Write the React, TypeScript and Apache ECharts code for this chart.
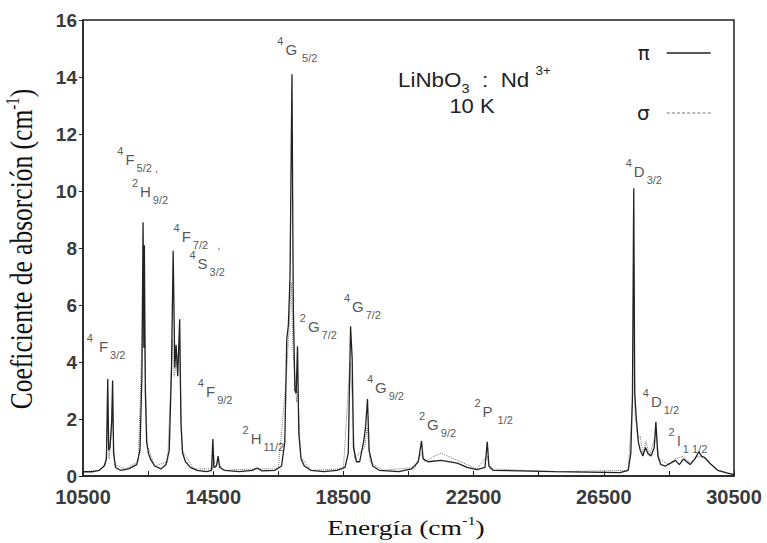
import React, { useEffect, useRef } from "react";
import * as echarts from "echarts";

// π-polarised absorption spectrum [energy cm-1, absorption coefficient cm-1]
const piSpectrum: [number, number][] = [
  [10500, 0.15], [10800, 0.15], [11000, 0.2], [11150, 0.35], [11220, 0.6], [11260, 3.4],
  [11290, 0.9], [11330, 1.0], [11380, 1.9], [11410, 3.35], [11440, 0.8], [11500, 0.3],
  [11650, 0.2], [11900, 0.25], [12150, 0.4], [12250, 0.9], [12310, 3.5], [12345, 8.9],
  [12370, 4.5], [12385, 8.1], [12415, 3.0], [12455, 1.2], [12510, 0.8], [12570, 0.6],
  [12700, 0.35], [12900, 0.25], [13050, 0.4], [13150, 0.9], [13220, 3.8], [13270, 7.9],
  [13320, 3.8], [13360, 4.6], [13410, 3.5], [13470, 5.5], [13510, 1.8], [13560, 0.8],
  [13650, 0.5], [13800, 0.3], [14000, 0.2], [14300, 0.15], [14450, 0.2], [14490, 1.3],
  [14520, 0.3], [14600, 0.35], [14650, 0.7], [14700, 0.3], [14850, 0.2], [15300, 0.15],
  [15700, 0.2], [15850, 0.28], [16000, 0.18], [16400, 0.2], [16600, 0.35], [16700, 1.2],
  [16760, 4.8], [16810, 5.3], [16860, 7.0], [16920, 14.1], [16960, 6.0], [17010, 3.0],
  [17050, 2.9], [17090, 4.55], [17130, 1.5], [17200, 0.6], [17300, 0.35], [17500, 0.2],
  [17900, 0.15], [18300, 0.2], [18550, 0.3], [18650, 0.8], [18720, 5.25], [18770, 4.1],
  [18810, 1.0], [18900, 0.5], [19000, 0.5], [19120, 1.2], [19180, 1.7], [19240, 2.7],
  [19290, 0.9], [19400, 0.35], [19600, 0.2], [20200, 0.15], [20600, 0.25], [20800, 0.5],
  [20900, 1.23], [20950, 0.6], [21100, 0.5], [21500, 0.55], [22000, 0.45], [22300, 0.3],
  [22600, 0.22], [22850, 0.3], [22920, 1.2], [22970, 0.35], [23100, 0.2], [25000, 0.15],
  [27000, 0.12], [27250, 0.2], [27330, 0.8], [27380, 2.8], [27420, 10.1], [27450, 2.9],
  [27500, 2.0], [27560, 1.2], [27620, 0.9], [27700, 0.7], [27780, 1.0], [27850, 0.8],
  [27950, 0.7], [28050, 1.0], [28100, 1.9], [28160, 0.7], [28250, 0.4], [28400, 0.35],
  [28550, 0.45], [28700, 0.55], [28820, 0.4], [28950, 0.6], [29150, 0.4], [29300, 0.6],
  [29420, 0.85], [29500, 0.7], [29600, 0.65], [29800, 0.4], [30000, 0.2], [30300, 0.1],
  [30500, 0.05],
];

// σ-polarised absorption spectrum [energy cm-1, absorption coefficient cm-1]
const sigmaSpectrum: [number, number][] = [
  [10500, 0.15], [11000, 0.2], [11200, 0.4], [11260, 1.8], [11300, 0.6], [11410, 2.0],
  [11470, 0.4], [11800, 0.25], [12200, 0.5], [12330, 5.5], [12365, 7.8], [12405, 4.0],
  [12470, 1.1], [12700, 0.35], [13100, 0.5], [13250, 4.8], [13300, 3.5], [13460, 4.5],
  [13550, 0.9], [13900, 0.25], [14480, 0.25], [14500, 0.9], [14560, 0.3], [14660, 0.5],
  [14800, 0.2], [15850, 0.25], [16500, 0.25], [16750, 3.5], [16820, 5.0], [16900, 6.8],
  [16950, 4.5], [17060, 2.6], [17100, 3.0], [17180, 0.7], [17500, 0.2], [18500, 0.25],
  [18700, 4.0], [18760, 3.0], [18850, 0.6], [19150, 1.0], [19230, 1.7], [19320, 0.5],
  [19700, 0.2], [20700, 0.3], [20900, 0.8], [21000, 0.5], [21300, 0.7], [21500, 0.8],
  [21800, 0.65], [22200, 0.45], [22600, 0.25], [22920, 0.7], [23000, 0.25], [25000, 0.15],
  [27250, 0.2], [27380, 2.5], [27420, 6.0], [27460, 2.2], [27550, 1.3], [27620, 1.4],
  [27700, 0.8], [27800, 1.2], [27900, 0.7], [28100, 1.5], [28200, 0.6], [28500, 0.4],
  [28700, 0.6], [28950, 0.7], [29150, 0.45], [29400, 0.7], [29600, 0.6], [30000, 0.2],
  [30500, 0.05],
];

// x tick labels and minor ticks
const xTickLabels = [10500, 14500, 18500, 22500, 26500, 30500];
const xTicks = [10500, 12500, 14500, 16500, 18500, 20500, 22500, 24500, 26500, 28500, 30500];

// level annotations: [energy, absorption, superscript, term, subscript]
const levelLabels: [number, number, string, string, string][] = [
  [11208, 4.56, "4", " F", "3/2"],
  [12180, 11.1, "4", "F", "5/2 ,"],
  [12560, 10.0, "2", "H", "9/2"],
  [14000, 8.39, "4", "F", "7/2   ,"],
  [14315, 7.45, "4", "S", "3/2"],
  [14560, 2.95, "4", "F", "9/2"],
  [16040, 1.33, "2", "H", "11/2"],
  [17085, 14.95, "4", "G", " 5/2"],
  [17731, 5.26, "2", "G", "7/2"],
  [19085, 5.96, "4", "G", "7/2"],
  [19792, 3.12, "4", "G", "9/2"],
  [21392, 1.82, "2", "G", "9/2"],
  [23115, 2.28, "2", "P", " 1/2"],
  [27731, 10.67, "4", "D", "3/2"],
  [28254, 2.6, "4", "D", "1/2"],
  [29085, 1.26, "2", "I", "1 1/2"],
];

const sans = "'Liberation Sans', Arial, sans-serif";
const serif = "'Liberation Serif', 'Times New Roman', serif";
const ink = "#2a2a2a";

export default function App() {
  const ref = useRef<HTMLDivElement>(null);
  useEffect(() => {
    document.body.style.margin = "0";
    if (!ref.current) return;
    const chart = echarts.init(ref.current, undefined, { renderer: "svg" });
    const option: any = {
      animation: false,
      backgroundColor: "#ffffff",
      grid: {
        left: 83, right: 33, top: 20, bottom: 67,
        containLabel: false,
        outerBoundsMode: "none",
        show: true, borderColor: "#222", borderWidth: 1.5,
      },
      legend: {
        orient: "vertical",
        left: 632,
        top: 38,
        align: "right",
        itemWidth: 44,
        itemHeight: 14,
        itemGap: 40,
        textStyle: { fontFamily: "'DejaVu Sans', sans-serif", fontSize: 20, color: "#222", padding: [0, 12, 0, 0] },
        data: [
          { name: "π", icon: "path://M0,0 L44,0 L44,1.5 L0,1.5 Z", itemStyle: { color: "#222" } },
          { name: "σ", icon: "path://M0,0 L3,0 L3,1 L0,1 Z M5,0 L8,0 L8,1 L5,1 Z M10,0 L13,0 L13,1 L10,1 Z M15,0 L18,0 L18,1 L15,1 Z M20,0 L23,0 L23,1 L20,1 Z M25,0 L28,0 L28,1 L25,1 Z M30,0 L33,0 L33,1 L30,1 Z M35,0 L38,0 L38,1 L35,1 Z M40,0 L43,0 L43,1 L40,1 Z", itemStyle: { color: "#777" } },
        ],
      },
      xAxis: {
        type: "value",
        min: 10500,
        max: 30500,
        axisLine: { lineStyle: { color: "#222", width: 1.5 } },
        axisTick: { show: true, inside: true, length: 5, customValues: xTicks, lineStyle: { color: "#222" } },
        axisLabel: {
          customValues: xTickLabels,
          formatter: (v: number) => String(v),
          margin: 11,
          fontFamily: sans, fontSize: 20, fontWeight: "bold", color: "#3a3a3a",
        },
        splitLine: { show: false },
      },
      yAxis: {
        type: "value",
        min: 0,
        max: 16,
        interval: 2,
        axisLine: { show: true, lineStyle: { color: "#222", width: 1.5 } },
        axisTick: { show: true, length: 4, lineStyle: { color: "#222" } },
        axisLabel: { margin: 6, fontFamily: sans, fontSize: 19, fontWeight: "bold", color: "#3a3a3a" },
        splitLine: { show: false },
      },
      series: [
        {
          name: "σ",
          type: "line",
          data: sigmaSpectrum,
          showSymbol: false,
          symbol: "none",
          lineStyle: { color: "#777", width: 1, type: "dotted" },
          z: 2,
        },
        {
          name: "π",
          type: "line",
          data: piSpectrum,
          showSymbol: false,
          symbol: "none",
          lineStyle: { color: "#222", width: 1.3 },
          z: 3,
        },
        {
          name: "levels",
          type: "scatter",
          symbolSize: 0,
          silent: true,
          itemStyle: { color: ink },
          data: levelLabels.map((l) => ({ value: [l[0], l[1]], lab: l })),
          label: {
            show: true,
            position: "inside",
            color: ink,
            textBorderWidth: 0,
            formatter: (p: any) => {
              const l = p.data.lab;
              return `{sup|${l[2]}}{main|${l[3]}}{sub|${l[4]}}`;
            },
            rich: {
              sup: { fontFamily: sans, fontSize: 11, color: ink, verticalAlign: "top", lineHeight: 28, padding: [0, 2, 0, 0] },
              main: { fontFamily: sans, fontSize: 15, color: ink, lineHeight: 28 },
              sub: { fontFamily: sans, fontSize: 11, color: ink, verticalAlign: "bottom", lineHeight: 28, padding: [0, 0, 0, 2] },
            },
          },
          z: 5,
        },
      ],
      graphic: [
        {
          type: "text",
          x: 398,
          y: 80,
          scaleX: 1.12,
          style: {
            text: "LiNbO{sub|3}  :  Nd {sup|3+}",
            font: `20px ${sans}`,
            fill: "#222",
            verticalAlign: "middle",
            rich: {
              sub: { fontFamily: sans, fontSize: 13, fill: "#222", verticalAlign: "bottom", lineHeight: 30 },
              sup: { fontFamily: sans, fontSize: 12, fill: "#222", verticalAlign: "top", lineHeight: 30 },
            },
          },
        },
        {
          type: "text",
          x: 472,
          y: 106,
          scaleX: 1.1,
          style: { text: "10 K", font: `20px ${sans}`, fill: "#222", align: "center", verticalAlign: "middle" },
        },
        {
          type: "text",
          x: 406,
          y: 527,
          scaleX: 1.25,
          style: {
            text: "Energía (cm{sup|-1})",
            font: `22px ${serif}`,
            fill: "#111",
            align: "center",
            verticalAlign: "middle",
            rich: { sup: { fontFamily: serif, fontSize: 13, fill: "#111", verticalAlign: "top", lineHeight: 26 } },
          },
        },
        {
          type: "text",
          x: 22,
          y: 249,
          rotation: Math.PI / 2,
          scaleY: 1.22,
          style: {
            text: "Coeficiente de absorción (cm{sup|-1})",
            font: `25.5px ${serif}`,
            fill: "#111",
            align: "center",
            verticalAlign: "middle",
            rich: { sup: { fontFamily: serif, fontSize: 15, fill: "#111", verticalAlign: "top", lineHeight: 30 } },
          },
        },
      ],
    };
    chart.setOption(option);
    return () => chart.dispose();
  }, []);
  return <div ref={ref} style={{ width: 767, height: 543 }} />;
}
